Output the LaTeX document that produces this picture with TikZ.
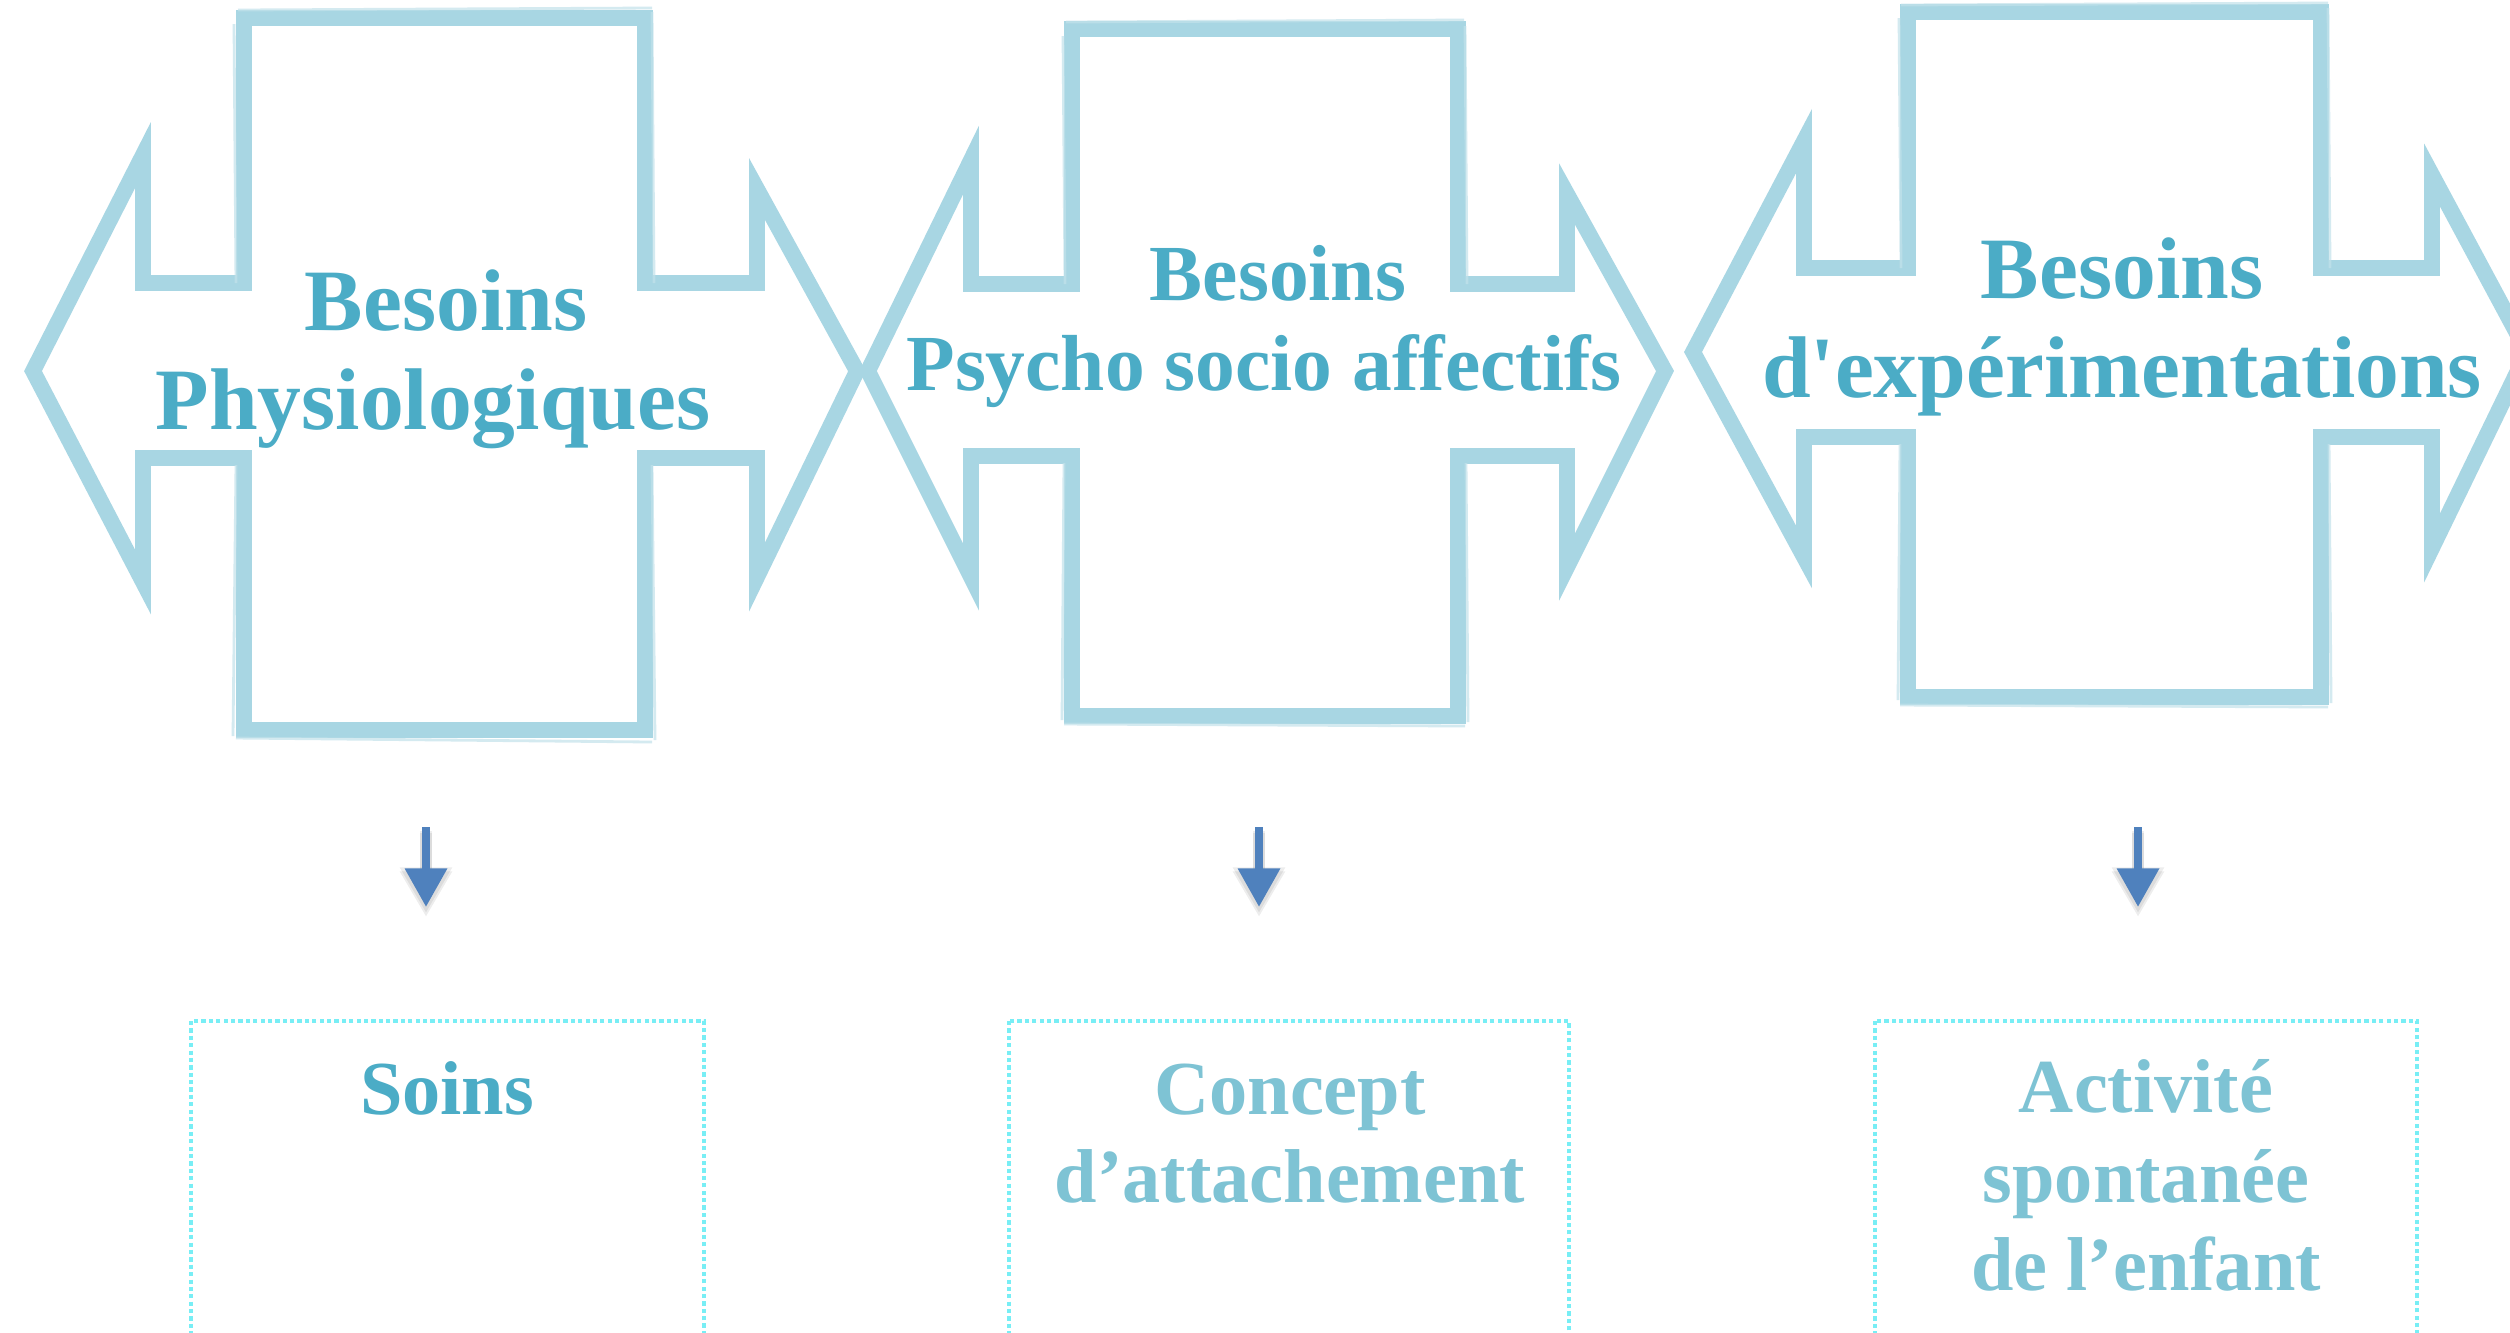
\documentclass[tikz,border=0pt]{standalone}
\usepackage{fontspec}
\newfontfamily\tnr{Liberation Serif}
\usetikzlibrary{arrows.meta}
\definecolor{outlinec}{RGB}{168,214,227}
\definecolor{titlec}{RGB}{75,172,198}
\definecolor{lightc}{RGB}{126,195,212}
\definecolor{arrowc}{RGB}{79,129,189}
\definecolor{dotc}{RGB}{120,238,245}
\begin{document}
\begin{tikzpicture}[x=0.01cm,y=-0.01cm,
  callout/.style={draw=outlinec, line width=4.5pt, line join=miter},
  calloutthin/.style={draw=outlinec!70, line width=0.8pt, line join=miter, opacity=0.7},
  titlebig/.style={text=titlec, font=\tnr\bfseries\fontsize{24.9}{28}\selectfont, anchor=base, inner sep=0pt},
  titlemid/.style={text=titlec, font=\tnr\bfseries\fontsize{22.6}{26}\selectfont, anchor=base, inner sep=0pt},
  lowtext/.style={font=\tnr\bfseries\fontsize{21.7}{25}\selectfont, anchor=base, inner sep=0pt},
  downarrow/.style={draw=arrowc, line width=2.4pt, -{Triangle[width=11.5pt,length=11pt]}},
  downshadow/.style={draw=black, opacity=0.07, line width=3.4pt, -{Triangle[width=14pt,length=13pt]}},
  dotbox/.style={draw=dotc, line width=1.1pt, dash pattern=on 1.2pt off 0.9pt}
]
\clip (0,0) rectangle (2510,1332);
\fill[white] (0,0) rectangle (2510,1332);

% ---- callout 1
\draw[callout] (244,18) -- (645,18) -- (645,283) -- (757,283) -- (757,189) -- (857,371)
  -- (757,577) -- (757,458) -- (645,458) -- (645,730) -- (244,730) -- (244,458)
  -- (143,458) -- (143,582) -- (33,371) -- (143,155) -- (143,283) -- (244,283) -- cycle;
\draw[calloutthin] (238,10) -- (652,8) (652,12) -- (654,283) (234,24) -- (236,283)
  (236,738) -- (652,742) (652,465) -- (655,740) (236,465) -- (233,736);
% ---- callout 2
\draw[callout] (1072,29) -- (1458,29) -- (1458,284) -- (1567,284) -- (1567,194) -- (1665,371)
  -- (1567,567) -- (1567,456) -- (1458,456) -- (1458,716) -- (1072,716) -- (1072,456)
  -- (971,456) -- (971,577) -- (868,371) -- (971,160) -- (971,284) -- (1072,284) -- cycle;
\draw[calloutthin] (1066,22) -- (1464,20) (1465,26) -- (1467,284) (1063,36) -- (1065,284)
  (1064,724) -- (1465,726) (1466,463) -- (1468,722) (1064,463) -- (1062,720);
% ---- callout 3
\draw[callout] (1908,12) -- (2321,12) -- (2321,268) -- (2432,268) -- (2432,175) -- (2527,352)
  -- (2432,548) -- (2432,437) -- (2321,437) -- (2321,697) -- (1908,697) -- (1908,437)
  -- (1804,437) -- (1804,557) -- (1693,352) -- (1804,141) -- (1804,268) -- (1908,268) -- cycle;
\draw[calloutthin] (1901,5) -- (2328,3) (2328,8) -- (2330,268) (1899,18) -- (1901,268)
  (1900,705) -- (2328,707) (2329,444) -- (2331,703) (1900,444) -- (1898,700);

% ---- titles
\node[titlebig] (t1a) at (446,330) {Besoins};
\node[titlebig] (t1b) at (433,429) {Physiologiques};
\node[titlemid] (t2a) at (1278,300) {Besoins};
\node[titlemid] (t2b) at (1264,390) {Psycho socio affectifs};
\node[titlebig] (t3a) at (2122,298) {Besoins};
\node[titlebig] (t3b) at (2122,397) {d'expérimentations};

% ---- down arrows
\coordinate (a1s) at (426,827); \coordinate (a1e) at (426,907);
\coordinate (a2s) at (1259,827); \coordinate (a2e) at (1259,907);
\coordinate (a3s) at (2138,827); \coordinate (a3e) at (2138,907);
\coordinate (s1s) at (426,833); \coordinate (s1e) at (426,917);
\coordinate (s2s) at (1259,833); \coordinate (s2e) at (1259,917);
\coordinate (s3s) at (2138,833); \coordinate (s3e) at (2138,917);
\coordinate (r1s) at (426,831); \coordinate (r1e) at (426,913);
\coordinate (r2s) at (1259,831); \coordinate (r2e) at (1259,913);
\coordinate (r3s) at (2138,831); \coordinate (r3e) at (2138,913);
\draw[downshadow] (s1s) -- (s1e);
\draw[downshadow] (s2s) -- (s2e);
\draw[downshadow] (s3s) -- (s3e);
\draw[downshadow] (r1s) -- (r1e);
\draw[downshadow] (r2s) -- (r2e);
\draw[downshadow] (r3s) -- (r3e);
\draw[downarrow] (a1s) -- (a1e);
\draw[downarrow] (a2s) -- (a2e);
\draw[downarrow] (a3s) -- (a3e);

% ---- bottom boxes
\draw[dotbox] (191,1021) rectangle (704,1420);
\draw[dotbox] (1009,1021) rectangle (1569,1420);
\draw[dotbox] (1875,1021) rectangle (2417,1420);

\node[lowtext, text=titlec] (b1) at (447,1114) {Soins};
\node[lowtext, text=lightc] (b2a) at (1290,1114) {Concept};
\node[lowtext, text=lightc] (b2b) at (1290,1202) {d’attachement};
\node[lowtext, text=lightc] (b3a) at (2146,1112) {Activité};
\node[lowtext, text=lightc] (b3b) at (2146,1202) {spontanée};
\node[lowtext, text=lightc] (b3c) at (2146,1290) {de l’enfant};
\end{tikzpicture}
\end{document}
